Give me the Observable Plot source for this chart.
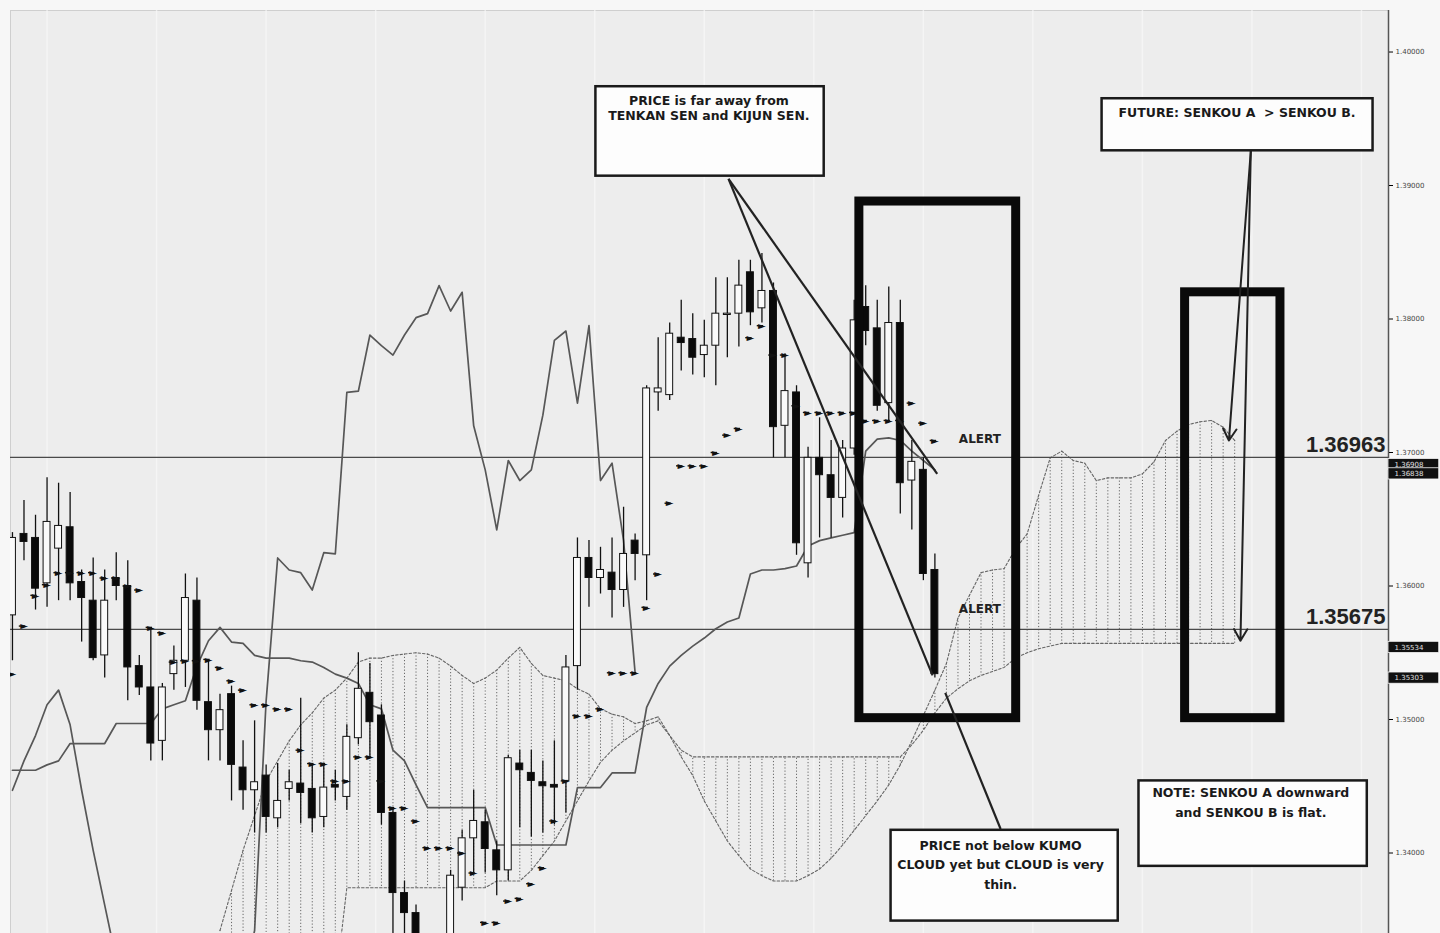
<!DOCTYPE html>
<html>
<head>
<meta charset="utf-8">
<script src="https://cdn.jsdelivr.net/npm/d3@7"></script>
<script src="https://cdn.jsdelivr.net/npm/@observablehq/plot@0.6"></script>
<style>
  html, body { margin: 0; padding: 0; background: #f7f7f7; }
  #chart svg { display: block; }
</style>
</head>
<body>
<div id="chart"></div>
<script>
// ---- candles (index 0..80), prices ----
const open = [1.3578,1.3639,1.3636,1.3602,1.3628,1.3644,1.3603,1.3589,1.3548,1.3606,
1.3600,1.3540,1.3524,1.3484,1.3534,1.3544,1.3589,1.3513,1.3492,1.3519,
1.3464,1.3447,1.3458,1.3426,1.3448,1.3452,1.3448,1.3427,1.3451,1.3442,
1.3486,1.3520,1.3503,1.3430,1.3370,1.3355,1.3327,1.3320,1.3331,1.3374,
1.3411,1.3423,1.3402,1.3387,1.3467,1.3460,1.3453,1.3451,1.3454,1.3540,
1.3621,1.3606,1.3610,1.3597,1.3634,1.3623,1.3745,1.3743,1.3786,1.3785,
1.3773,1.3780,1.3803,1.3804,1.3835,1.3808,1.3821,1.3720,1.3745,1.3617,
1.3696,1.3683,1.3666,1.3703,1.3809,1.3793,1.3737,1.3797,1.3679,1.3687,
1.3612];
const high = [1.3640,1.3664,1.3653,1.3681,1.3677,1.3670,1.3612,1.3621,1.3612,1.3625,
1.3619,1.3548,1.3569,1.3527,1.3555,1.3609,1.3606,1.3544,1.3519,1.3525,
1.3484,1.3499,1.3466,1.3467,1.3462,1.3516,1.3467,1.3467,1.3462,1.3496,
1.3550,1.3542,1.3511,1.3434,1.3379,1.3361,1.3335,1.3331,1.3387,1.3417,
1.3447,1.3432,1.3409,1.3473,1.3477,1.3477,1.3469,1.3484,1.3548,1.3636,
1.3634,1.3629,1.3636,1.3659,1.3639,1.3750,1.3786,1.3797,1.3814,1.3804,
1.3799,1.3831,1.3831,1.3844,1.3844,1.3849,1.3827,1.3774,1.3750,1.3704,
1.3726,1.3709,1.3709,1.3814,1.3825,1.3814,1.3824,1.3814,1.3709,1.3696,
1.3624];
const low = [1.3544,1.3619,1.3582,1.3584,1.3589,1.3589,1.3558,1.3544,1.3531,1.3589,
1.3514,1.3518,1.3469,1.3469,1.3522,1.3524,1.3507,1.3469,1.3469,1.3439,
1.3432,1.3415,1.3415,1.3419,1.3439,1.3422,1.3415,1.3419,1.3439,1.3432,
1.3481,1.3472,1.3421,1.3338,1.3335,1.3320,1.3308,1.3308,1.3320,1.3364,
1.3385,1.3385,1.3368,1.3379,1.3419,1.3412,1.3415,1.3421,1.3430,1.3522,
1.3584,1.3594,1.3576,1.3584,1.3604,1.3589,1.3731,1.3739,1.3761,1.3758,
1.3756,1.3750,1.3771,1.3779,1.3795,1.3797,1.3696,1.3696,1.3623,1.3606,
1.3636,1.3636,1.3651,1.3698,1.3780,1.3731,1.3724,1.3654,1.3642,1.3604,
1.3531];
const close = [1.3636,1.3633,1.3598,1.3648,1.3645,1.3602,1.3591,1.3546,1.3589,1.3600,
1.3539,1.3524,1.3482,1.3524,1.3544,1.3591,1.3514,1.3492,1.3507,1.3466,
1.3447,1.3453,1.3427,1.3439,1.3453,1.3445,1.3426,1.3449,1.3449,1.3487,
1.3523,1.3498,1.3430,1.3370,1.3355,1.3331,1.3316,1.3327,1.3383,1.3411,
1.3424,1.3403,1.3387,1.3471,1.3462,1.3454,1.3450,1.3449,1.3539,1.3621,
1.3606,1.3612,1.3597,1.3624,1.3624,1.3748,1.3748,1.3789,1.3782,1.3771,
1.3780,1.3804,1.3804,1.3825,1.3805,1.3821,1.3719,1.3746,1.3632,1.3696,
1.3683,1.3666,1.3703,1.3799,1.3791,1.3735,1.3797,1.3677,1.3693,1.3609,
1.3534];

// ---- Ichimoku lines ----
const tenkan = [1.3534,1.3570,1.3593,1.3601,1.3610,1.3610,1.3610,1.3610,1.3606,1.3606,
1.3600,1.3597,1.3569,1.3565,1.3543,1.3544,1.3544,1.3545,1.3539,1.3529,
1.3522,1.3511,1.3511,1.3508,1.3508,1.3477,1.3467,1.3467,1.3454,1.3454,
1.3472,1.3472,1.3454,1.3434,1.3434,1.3424,1.3404,1.3404,1.3404,1.3400,
1.3385,1.3348,1.3348,1.3364,1.3366,1.3377,1.3389,1.3424,1.3454,1.3503,
1.3503,1.3508,1.3535,1.3535,1.3535,1.3584,1.3609,1.3662,1.3690,1.3690,
1.3690,1.3700,1.3713,1.3718,1.3786,1.3795,1.3773,1.3773,1.3735,1.3730,
1.3730,1.3730,1.3730,1.3730,1.3724,1.3724,1.3724,1.3724,1.3737,1.3722,
1.3709];
const kijun = [1.3462,1.3462,1.3462,1.3466,1.3469,1.3482,1.3482,1.3482,1.3482,1.3497,
1.3497,1.3497,1.3497,1.3508,1.3511,1.3514,1.3540,1.3559,1.3569,1.3558,
1.3557,1.3548,1.3546,1.3546,1.3546,1.3544,1.3543,1.3539,1.3534,1.3531,
1.3527,1.3511,1.3508,1.3477,1.3469,1.3451,1.3434,1.3434,1.3434,1.3434,
1.3434,1.3434,1.3406,1.3406,1.3406,1.3406,1.3406,1.3406,1.3406,1.3449,
1.3449,1.3449,1.3460,1.3460,1.3460,1.3509,1.3527,1.3540,1.3548,1.3555,
1.3561,1.3568,1.3573,1.3576,1.3609,1.3612,1.3612,1.3613,1.3615,1.3630,
1.3634,1.3636,1.3638,1.3640,1.3701,1.3710,1.3711,1.3709,1.3701,1.3694,
1.3687];
// Chikou span, index 0..54
const chikou = [1.3447,1.3469,1.3488,1.3511,1.3522,1.3496,1.3447,1.3402,1.3361,1.3320,
1.3300,1.3300,1.3300,1.3300,1.3300,1.3300,1.3300,1.3300,1.3300,1.3300,
1.3300,1.3342,1.3514,1.3621,1.3612,1.3610,1.3597,1.3625,1.3624,1.3745,
1.3746,1.3788,1.3780,1.3773,1.3788,1.3801,1.3804,1.3825,1.3806,1.3820,
1.3720,1.3687,1.3642,1.3694,1.3679,1.3687,1.3728,1.3784,1.3791,1.3737,
1.3795,1.3679,1.3692,1.3634,1.3535];
// Kumo, index 18..106
const cloudStart = 18;
const spanA = [1.3342,1.3372,1.3402,1.3428,1.3454,1.3469,1.3484,1.3496,1.3505,1.3516,
1.3522,1.3531,1.3543,1.3546,1.3546,1.3548,1.3549,1.3550,1.3549,1.3546,
1.3540,1.3533,1.3527,1.3531,1.3537,1.3546,1.3554,1.3542,1.3533,1.3531,
1.3529,1.3523,1.3519,1.3508,1.3504,1.3502,1.3497,1.3499,1.3502,1.3488,
1.3472,1.3458,1.3439,1.3424,1.3409,1.3398,1.3388,1.3383,1.3379,1.3379,
1.3379,1.3383,1.3388,1.3396,1.3406,1.3417,1.3428,1.3439,1.3451,1.3466,
1.3484,1.3503,1.3522,1.3542,1.3576,1.3593,1.3610,1.3612,1.3613,1.3628,
1.3639,1.3668,1.3696,1.3701,1.3694,1.3692,1.3679,1.3681,1.3681,1.3681,
1.3684,1.3693,1.3709,1.3716,1.3721,1.3723,1.3724,1.3719,1.3709];
const spanB = [1.3300,1.3300,1.3300,1.3300,1.3300,1.3300,1.3300,1.3300,1.3300,1.3300,
1.3300,1.3374,1.3374,1.3374,1.3374,1.3374,1.3374,1.3374,1.3374,1.3374,
1.3374,1.3374,1.3374,1.3374,1.3379,1.3379,1.3379,1.3387,1.3398,1.3409,
1.3424,1.3439,1.3454,1.3468,1.3477,1.3484,1.3490,1.3496,1.3499,1.3488,
1.3477,1.3472,1.3472,1.3472,1.3472,1.3472,1.3472,1.3472,1.3472,1.3472,
1.3472,1.3472,1.3472,1.3472,1.3472,1.3472,1.3472,1.3472,1.3472,1.3472,
1.3481,1.3492,1.3505,1.3516,1.3523,1.3529,1.3533,1.3536,1.3539,1.3546,
1.3550,1.3553,1.3555,1.3557,1.3557,1.3557,1.3557,1.3557,1.3557,1.3557,
1.3557,1.3557,1.3557,1.3557,1.3557,1.3557,1.3557,1.3557,1.3557];

// ---- axis, levels, tags ----
const yTicks = [1.34, 1.35, 1.36, 1.37, 1.38, 1.39, 1.40];
const levels = [1.36963, 1.35675];
const levelLabels = ["1.36963", "1.35675"];
const tagPrices = [1.3691, 1.3684, 1.3554, 1.3531];
const tagLabels = ["1.36908", "1.36838", "1.35534", "1.35303"];

// ---- annotations (x in bar index, y in price) ----
const zoneX1 = [73.45, 101.7];
const zoneX2 = [87.05, 109.97];
const zoneTop = [1.3888, 1.3820];
const zoneBottom = [1.3501, 1.3501];

const boxX1 = [50.6, 94.5, 97.7, 76.2];
const boxX2 = [70.4, 118.0, 117.5, 95.9];
const boxTop = [1.3974, 1.3965, 1.3454, 1.3417];
const boxBottom = [1.3907, 1.3926, 1.3390, 1.3349];

const noteText = ["PRICE is far away from", "TENKAN SEN and KIJUN SEN.",
  "FUTURE: SENKOU A  > SENKOU B.",
  "NOTE: SENKOU A downward", "and SENKOU B is flat.",
  "PRICE not below KUMO", "CLOUD yet but CLOUD is very", "thin."];
const noteX = [60.4, 60.4, 106.2, 107.4, 107.4, 85.7, 85.7, 85.7];
const noteY = [1.3963, 1.3952, 1.3954, 1.3445, 1.3430, 1.3405, 1.3391, 1.3376];

const alertText = ["ALERT", "ALERT"];
const alertX = [83.9, 83.9];
const alertY = [1.3710, 1.3583];

const linkX1 = [62.1, 62.1, 85.7];
const linkY1 = [1.3905, 1.3905, 1.3418];
const linkX2 = [80.2, 79.8, 80.9];
const linkY2 = [1.3684, 1.3533, 1.3520];

const arrowX1 = [107.4, 107.4];
const arrowY1 = [1.3926, 1.3926];
const arrowX2 = [105.5, 106.5];
const arrowY2 = [1.3709, 1.3559];

// ---- build tables ----
const xDomain = [-0.17, 119.34];
const yDomain = [1.33397, 1.40311];
const bodyHalf = 0.3;
const tagHalf = 0.00042;

const candles = open.map((o, i) => ({i, o, h: high[i], l: low[i], c: close[i]}));
const tk = tenkan.map((v, i) => ({i, v}));
const kj = kijun.map((v, i) => ({i, v}));
const ck = chikou.map((v, i) => ({i, v}));
const cloud = spanA.map((a, k) => ({i: cloudStart + k, a, b: spanB[k]}));
const levelData = levels.map((p, k) => ({p, t: levelLabels[k]}));
const tags = tagPrices.map((p, k) => ({p, t: tagLabels[k]}));
const zones = zoneX1.map((x1, k) => ({x1, x2: zoneX2[k], y1: zoneBottom[k], y2: zoneTop[k]}));
const boxes = boxX1.map((x1, k) => ({x1, x2: boxX2[k], y1: boxBottom[k], y2: boxTop[k]}));
const notes = noteText.map((t, k) => ({t, x: noteX[k], y: noteY[k]}));
const alerts = alertText.map((t, k) => ({t, x: alertX[k], y: alertY[k]}));
const links = linkX1.map((x1, k) => ({x1, y1: linkY1[k], x2: linkX2[k], y2: linkY2[k]}));
const arrows = arrowX1.map((x1, k) => ({x1, y1: arrowY1[k], x2: arrowX2[k], y2: arrowY2[k]}));
const gridX = d3.range(3, 118, 9.5);

const lineColor = "#575757";
const noteFont = "DejaVu Sans, sans-serif";

const chart = Plot.plot({
  width: 1440,
  height: 933,
  marginLeft: 10,
  marginRight: 52,
  marginTop: 10,
  marginBottom: 0,
  style: {background: "#f7f7f7", fontFamily: "DejaVu Sans, sans-serif"},
  x: {domain: xDomain, axis: null},
  y: {domain: yDomain, axis: null},
  marks: [
    Plot.frame({fill: "#ededed", stroke: "#cfcfcf"}),
    Plot.ruleX(gridX, {stroke: "#f8f8f8", strokeWidth: 1.5, strokeOpacity: 0.7}),
    // kumo hatch
    Plot.ruleX(cloud, {x: "i", y1: "a", y2: "b", stroke: "#666", strokeWidth: 1, strokeDasharray: "1.2,2", clip: true}),
    Plot.line(cloud, {x: "i", y: "a", stroke: "#666", strokeWidth: 1.1, strokeDasharray: "2.5,2", clip: true}),
    Plot.line(cloud, {x: "i", y: "b", stroke: "#666", strokeWidth: 1.1, strokeDasharray: "2.5,2", clip: true}),
    // level lines
    Plot.ruleY(levelData, {y: "p", stroke: "#4a4a4a", strokeWidth: 1.3}),
    // chikou & kijun
    Plot.line(ck, {x: "i", y: "v", stroke: lineColor, strokeWidth: 1.7, clip: true}),
    Plot.line(kj, {x: "i", y: "v", stroke: lineColor, strokeWidth: 1.7, clip: true}),
    // candles
    Plot.ruleX(candles, {x: "i", y1: "l", y2: "h", stroke: "#111", strokeWidth: 1.3, clip: true}),
    Plot.rect(candles, {
      x1: d => d.i - bodyHalf, x2: d => d.i + bodyHalf,
      y1: "o", y2: "c",
      fill: d => d.c >= d.o ? "#fafafa" : "#0a0a0a",
      stroke: "#111", strokeWidth: 1, clip: true
    }),
    // tenkan markers
    Plot.link(tk, {x1: d => d.i - 0.45, x2: d => d.i + 0.1, y1: "v", y2: "v", stroke: "#111", strokeWidth: 1.4, clip: true}),
    Plot.text(tk, {x: "i", y: "v", text: () => "►", fontSize: 10, fill: "#111", clip: true}),
    // level labels
    Plot.text(levelData, {x: () => xDomain[1], y: "p", text: "t", textAnchor: "end", dx: -3, dy: -12,
      fontSize: 22, fontWeight: "bold", fontFamily: "Liberation Sans, Arial, sans-serif", fill: "#222"}),
    // right axis
    Plot.ruleX([xDomain[1]], {stroke: "#555", strokeWidth: 1.5}),
    Plot.axisY(yTicks, {anchor: "right", tickSize: 4, tickPadding: 3, fontSize: 7, fill: "#444",
      tickFormat: d3.format(".5f")}),
    Plot.rect(tags, {x1: () => xDomain[1], x2: () => xDomain[1] + 4.4, y1: d => d.p - tagHalf, y2: d => d.p + tagHalf,
      fill: "#111", stroke: "#f7f7f7", strokeWidth: 0.8}),
    Plot.text(tags, {x: () => xDomain[1], y: "p", text: "t", textAnchor: "start", dx: 6, fontSize: 7, fill: "#e0e0e0"}),
    // alert zones
    Plot.rect(zones, {x1: "x1", x2: "x2", y1: "y1", y2: "y2", fill: "none", stroke: "#0a0a0a", strokeWidth: 9}),
    // annotation lines
    Plot.link(links, {x1: "x1", y1: "y1", x2: "x2", y2: "y2", stroke: "#222", strokeWidth: 2.2}),
    Plot.arrow(arrows, {x1: "x1", y1: "y1", x2: "x2", y2: "y2", stroke: "#222", strokeWidth: 2, headLength: 10}),
    Plot.text(alerts, {x: "x", y: "y", text: "t", fontSize: 12, fontWeight: "bold", fill: "#222", fontFamily: noteFont}),
    // note boxes
    Plot.rect(boxes, {x1: "x1", x2: "x2", y1: "y1", y2: "y2", fill: "#fdfdfd", stroke: "#1a1a1a", strokeWidth: 2.5}),
    Plot.text(notes, {x: "x", y: "y", text: "t", fontSize: 12.5, fontWeight: "bold", fill: "#1a1a1a", fontFamily: noteFont})
  ]
});
document.getElementById("chart").appendChild(chart);
</script>
</body>
</html>
